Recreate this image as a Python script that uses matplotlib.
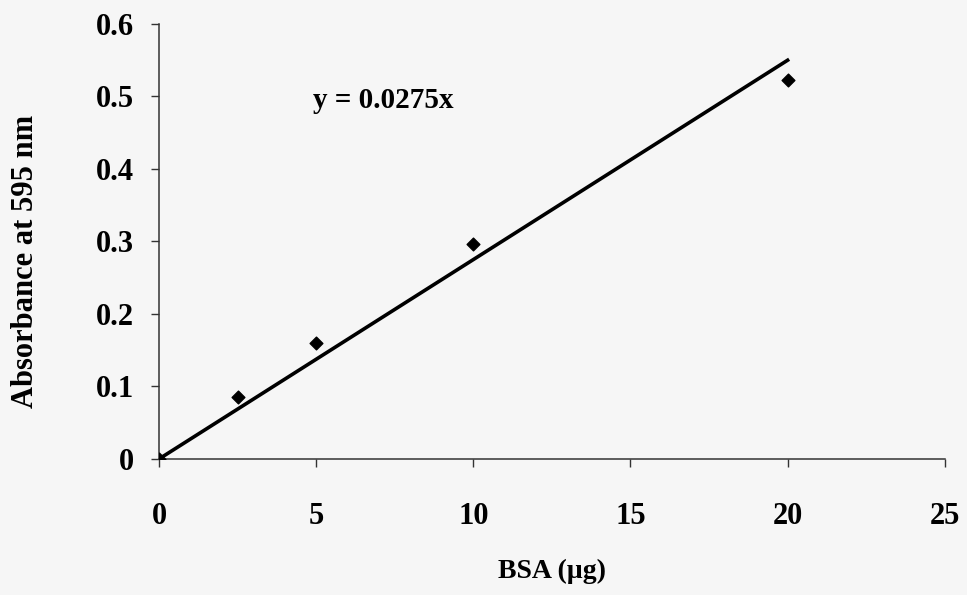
import matplotlib.pyplot as plt
import numpy as np

# Data
bsa = [0, 2.5, 5, 10, 20]
absorbance = [0.0, 0.085, 0.16, 0.297, 0.523]
slope = 0.0275
xticks = [0, 5, 10, 15, 20, 25]
yticks = [0, 0.1, 0.2, 0.3, 0.4, 0.5, 0.6]
ytick_labels = ['0', '0.1', '0.2', '0.3', '0.4', '0.5', '0.6']

plt.rcParams['font.family'] = 'Liberation Serif'
plt.rcParams['font.weight'] = 'bold'

fig = plt.figure(figsize=(9.67, 5.95), dpi=100)
fig.patch.set_facecolor('#f6f6f6')
ax = fig.add_axes([0.1644, 0.2286, 0.8126, 0.7311])
ax.set_facecolor('#f6f6f6')

fit_x = np.array([0, 20])
ax.plot(fit_x, slope * fit_x, color='black', lw=2.6, zorder=2)
ax.scatter(bsa, absorbance, marker='D', s=42, color='black', zorder=3)

ax.text(4.9, 0.494, 'y = 0.0275x', fontsize=21, fontweight='bold', va='center')

ax.set_xlim(0, 25)
ax.set_ylim(0, 0.6)
ax.set_xticks(xticks)
ax.set_yticks(yticks)
ax.set_yticklabels(ytick_labels)
ax.tick_params(axis='x', direction='out', length=6, width=1, pad=25, labelsize=22, color='#333333')
ax.tick_params(axis='y', direction='out', length=6, width=1, pad=12, labelsize=22, color='#333333')
for lab in ax.get_xticklabels() + ax.get_yticklabels():
    lab.set_fontweight('bold')

for side in ['top', 'right']:
    ax.spines[side].set_visible(False)
for side in ['left', 'bottom']:
    ax.spines[side].set_color('#333333')
    ax.spines[side].set_linewidth(1.1)

ax.set_xlabel('BSA (µg)', fontsize=20, fontweight='bold', labelpad=20)
ax.set_ylabel('Absorbance at 595 nm', fontsize=22, fontweight='bold', labelpad=40)
ax.yaxis.label.set_y(0.455)

fig.savefig('out.png', dpi=100, facecolor=fig.get_facecolor())
